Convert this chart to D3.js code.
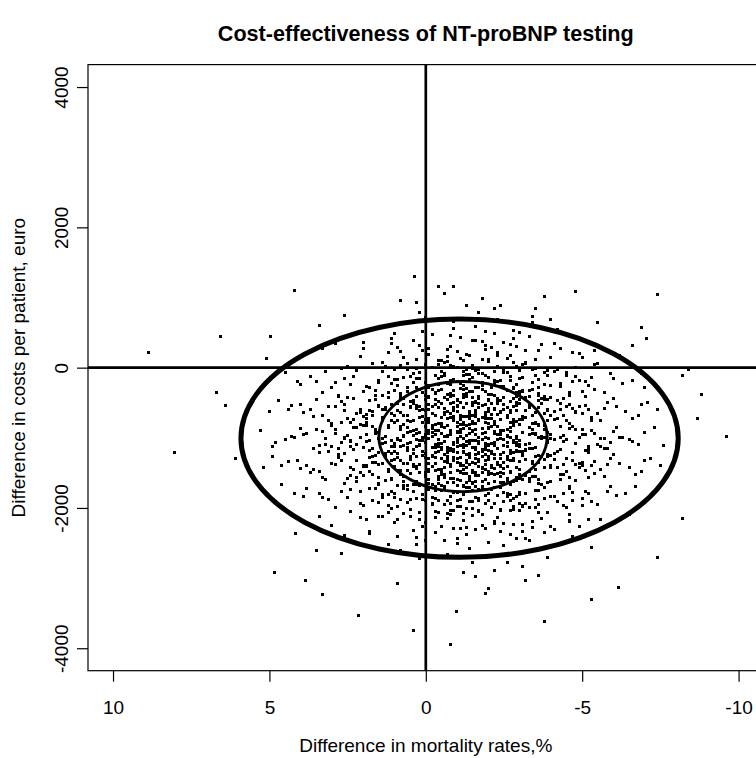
<!DOCTYPE html>
<html><head><meta charset="utf-8">
<script src="https://cdn.jsdelivr.net/npm/d3@7"></script>
<style>
body{margin:0;background:#fff}
svg{display:block;font-family:"Liberation Sans",Arial,Helvetica,sans-serif}
</style>
</head><body>
<svg id="chart" width="756" height="758"></svg>
<script>
// ---- text ----
const chartTitle = "Cost-effectiveness of NT-proBNP testing";
const xTitle = "Difference in mortality rates,%";
const yTitle = "Difference in costs per patient, euro";
// ---- axes ----
const xLimits = [10, -10];
const yLimits = [-4000, 4000];
const xTickValues = [10, 5, 0, -5, -10];
const yTickValues = [-4000, -2000, 0, 2000, 4000];
const xTickLabels = ["10", "5", "0", "-5", "-10"];
const yTickLabels = ["-4000", "-2000", "0", "2000", "4000"];
// ---- reference lines ----
const vLines = [0];
const hLines = [0];
// ---- confidence ellipses: [inner, outer] ----
const ellipseCx = [-1.19, -1.08];
const ellipseCy = [-984, -1006];
const ellipseRx = [2.69, 6.99];
const ellipseRy = [785, 1698];
// ---- simulated pairs [mortality diff %, cost diff euro], grouped by cost band ----
const drawsAround1000 = [[-0.4,-1020],[-2.3,-950],[0.6,-1080],[-1.5,-910],[1.8,-1040],[-3.6,-990],[-0.9,-1060],[0.2,-930],[-1.9,-1000],[-4.4,-970],
[-1.2,-1090],[2.6,-1010],[-0.1,-940],[-2.8,-1070],[-1.6,-960],[0.9,-1030],[-3.1,-920],[-0.6,-1050],[1.3,-980],[-2.0,-1100],
[-1.0,-905],[-2.5,-1025],[0.4,-965],[-3.9,-1045],[-0.7,-985],[1.6,-915],[-1.4,-1075],[-2.2,-935],[3.2,-1005],[-0.3,-1095],
[-1.8,-945],[-5.6,-1015],[0.0,-1065],[-2.6,-975],[-1.1,-925],[0.8,-1035],[-3.3,-955],[-0.5,-1085],[2.1,-995],[-1.7,-1055],
[-2.9,-1005],[-0.8,-915],[1.1,-1045],[-1.3,-965],[-4.1,-1025],[-0.2,-985],[-2.1,-1075],[0.5,-905],[-1.5,-1035],[-3.4,-945],
[-0.9,-1095],[1.9,-955],[-2.4,-1015],[-1.0,-1065],[0.3,-935],[-2.7,-995],[-4.8,-1085],[-0.6,-975],[2.4,-1055],[-1.9,-925],
[-1.2,-1005],[-3.0,-1045],[0.7,-965],[-0.4,-1100],[-2.2,-915],[-1.6,-1035],[1.4,-1085],[-3.7,-975],[-0.1,-1015],[-1.4,-945],
[-2.6,-1065],[0.1,-995],[-0.8,-905],[-1.8,-1025],[-5.1,-955],[1.0,-1075],[-2.0,-1005],[-0.5,-935],[-3.2,-1095],[-1.1,-985],
[2.9,-945],[-1.3,-1055],[-2.4,-905],[0.2,-1035],[-0.7,-965],[-4.0,-1015],[-1.7,-1075],[0.6,-925],[-2.9,-985],[-1.0,-1045],
[-0.3,-955],[-2.1,-1085],[1.5,-1015],[-3.5,-935]];
const drawsAround800 = [[-1.3,-820],[0.4,-760],[-2.6,-880],[-0.8,-710],[1.7,-840],[-3.4,-790],[-1.9,-730],[-0.2,-870],[-4.6,-800],[0.9,-750],
[-1.5,-890],[-2.2,-770],[2.5,-720],[-0.6,-850],[-3.0,-810],[-1.1,-740],[0.1,-780],[-2.7,-860],[-0.9,-700],[1.2,-830],
[-1.7,-760],[-3.8,-880],[-0.4,-790],[-2.0,-720],[0.6,-850],[-1.2,-810],[-5.3,-750],[-2.4,-895],[0.0,-735],[-0.7,-825],
[1.9,-775],[-1.8,-865],[-3.2,-705],[-1.0,-845],[-2.9,-765],[0.3,-885],[-0.5,-715],[-1.6,-795],[2.2,-855],[-4.1,-745],
[-2.1,-835],[-0.1,-785],[-1.4,-725],[0.8,-875],[-3.6,-815],[-0.9,-755],[-2.5,-895],[1.4,-705],[-1.2,-865],[-0.3,-805],
[-2.8,-745],[-1.6,-885],[0.5,-765],[-4.3,-835],[-0.8,-715],[-2.0,-795],[3.0,-825],[-1.1,-875],[-3.1,-735],[-0.6,-855],
[-1.9,-775],[0.2,-715],[-2.3,-845],[-0.4,-895],[1.1,-755],[-3.5,-785],[-1.3,-825],[-2.6,-705],[-0.2,-865],[-1.7,-745],
[0.7,-805],[-5.0,-875],[-0.9,-735],[-2.2,-815],[1.6,-885],[-1.5,-765],[-3.3,-855],[-0.7,-725],[0.0,-835],[-2.8,-795],
[-1.0,-905],[-1.8,-705],[2.7,-775],[-0.5,-845],[-3.9,-755],[-1.4,-815],[0.4,-895],[-2.4,-735],[-1.2,-785],[-0.1,-725],[-2.0,-865]];
const drawsAround1200 = [[-0.7,-1180],[-2.4,-1240],[0.8,-1120],[-1.6,-1290],[-3.3,-1150],[1.5,-1210],[-0.2,-1260],[-1.9,-1130],[-4.2,-1200],[0.3,-1270],
[-1.1,-1110],[-2.7,-1230],[2.3,-1160],[-0.5,-1300],[-3.0,-1190],[-1.4,-1250],[0.6,-1140],[-2.1,-1220],[-5.2,-1170],[-0.9,-1280],
[1.0,-1125],[-1.8,-1195],[-3.7,-1265],[-0.3,-1145],[-2.5,-1215],[1.8,-1285],[-1.3,-1105],[-0.6,-1235],[-2.9,-1175],[0.1,-1255],
[-1.5,-1135],[-4.5,-1295],[-0.8,-1185],[2.8,-1245],[-2.2,-1115],[-1.0,-1205],[0.5,-1275],[-3.4,-1155],[-1.7,-1225],[-0.4,-1125],
[-2.6,-1265],[1.2,-1195],[-1.2,-1145],[-3.9,-1235],[0.0,-1285],[-2.0,-1105],[-0.7,-1175],[1.6,-1255],[-2.8,-1215],[-1.5,-1135],
[-0.1,-1295],[-3.2,-1185],[-1.9,-1245],[0.7,-1115],[-4.7,-1205],[-1.1,-1275],[-2.3,-1155],[0.4,-1225],[-0.5,-1165],[-1.6,-1295],
[2.0,-1135],[-3.6,-1255],[-0.9,-1195],[-2.5,-1105],[-1.3,-1235],[0.9,-1285],[-0.2,-1145],[-2.0,-1175],[-3.1,-1225],[-1.0,-1125],
[1.3,-1265],[-1.7,-1205],[-5.7,-1155],[-0.6,-1245],[-2.7,-1185],[0.2,-1115],[-1.4,-1275],[-0.3,-1215],[-3.5,-1135],[-2.2,-1295],
[3.4,-1205],[-0.8,-1155],[-1.8,-1265],[0.6,-1175],[-2.4,-1235],[-1.2,-1125],[-4.0,-1255],[-0.4,-1195],[-1.5,-1145],[1.1,-1225],[-2.9,-1105]];
const drawsAround600 = [[-1.0,-620],[-2.8,-560],[0.7,-680],[-1.7,-510],[-3.5,-640],[1.4,-590],[-0.3,-530],[-2.1,-670],[-4.3,-600],[0.2,-550],
[-1.4,-700],[-0.6,-580],[2.1,-640],[-2.5,-520],[-1.1,-690],[-3.2,-610],[0.5,-570],[-1.9,-650],[-0.8,-505],[1.7,-625],
[-2.3,-665],[-5.1,-545],[-0.1,-595],[-1.5,-685],[-2.9,-535],[0.9,-615],[-1.2,-575],[-3.8,-655],[-0.5,-515],[2.6,-605],
[-2.0,-585],[-1.3,-695],[0.3,-545],[-2.7,-635],[-0.9,-565],[-4.0,-675],[1.1,-525],[-1.6,-615],[-0.2,-655],[-3.0,-505],
[-2.2,-595],[0.6,-685],[-1.0,-535],[-3.6,-575],[1.9,-665],[-0.7,-625],[-1.8,-545],[-2.6,-685],[0.0,-605],[-1.3,-515],
[-4.8,-645],[-0.4,-565],[-2.4,-625],[1.3,-595],[-1.1,-675],[-3.3,-525],[-0.8,-655],[0.4,-505],[-2.0,-585],[-1.6,-695],
[3.1,-555],[-2.9,-615],[-0.3,-685],[-1.5,-545],[-3.9,-605],[0.8,-635],[-1.2,-575],[-2.3,-515],[-0.6,-665],[1.5,-545],
[-1.9,-635],[-3.1,-695],[-0.1,-525],[-2.6,-575],[-1.4,-655],[0.1,-595],[-4.5,-555],[-0.9,-615],[-2.1,-505],[1.0,-675],[-1.7,-565]];
const drawsAround1400 = [[-0.8,-1380],[-2.2,-1440],[1.1,-1320],[-1.5,-1490],[-3.6,-1350],[0.4,-1410],[-1.0,-1460],[-2.7,-1330],[1.9,-1400],[-0.3,-1470],
[-4.1,-1310],[-1.8,-1430],[0.7,-1360],[-2.4,-1500],[-1.2,-1390],[-0.5,-1450],[-3.0,-1340],[2.4,-1420],[-1.6,-1370],[-0.1,-1480],
[-2.0,-1315],[-5.0,-1395],[0.9,-1465],[-1.3,-1345],[-2.9,-1425],[-0.7,-1305],[1.5,-1375],[-1.9,-1455],[-3.4,-1335],[-0.2,-1405],
[-1.1,-1485],[-2.5,-1355],[0.3,-1435],[-4.4,-1385],[-0.9,-1325],[-1.6,-1495],[2.0,-1415],[-2.3,-1345],[-0.4,-1445],[-3.2,-1305],
[-1.4,-1375],[0.6,-1465],[-2.1,-1395],[-0.6,-1335],[-3.8,-1425],[1.2,-1485],[-1.0,-1355],[-2.6,-1305],[-0.1,-1455],[-1.7,-1415],
[-4.9,-1365],[0.0,-1495],[-2.8,-1325],[-1.2,-1445],[1.7,-1345],[-0.8,-1405],[-3.3,-1475],[-1.9,-1385],[0.5,-1315],[-2.2,-1435],
[-0.5,-1495],[-1.5,-1345],[2.9,-1385],[-3.5,-1455],[-0.9,-1305],[-2.4,-1405],[0.8,-1465],[-1.3,-1325],[-2.0,-1475],[-0.3,-1365],
[-4.0,-1425],[-1.7,-1305],[1.0,-1415],[-2.7,-1485],[-0.7,-1345],[-1.1,-1395],[-3.0,-1455],[0.2,-1375],[-1.8,-1435],[-5.4,-1335],[-0.6,-1420]];
const drawsAround400 = [[-1.2,-420],[-2.9,-360],[0.5,-480],[-1.8,-310],[-3.7,-440],[1.6,-390],[-0.4,-330],[-2.3,-470],[-4.6,-400],[0.1,-350],
[-1.5,-490],[-0.7,-380],[2.3,-440],[-2.6,-320],[-1.0,-460],[-3.3,-410],[0.8,-370],[-2.0,-450],[-0.2,-305],[1.2,-425],
[-2.4,-465],[-5.0,-345],[-0.9,-395],[-1.6,-485],[-3.0,-335],[0.3,-415],[-1.3,-375],[-3.9,-455],[-0.5,-315],[2.8,-405],
[-2.1,-385],[-1.1,-495],[0.6,-345],[-2.8,-435],[-0.8,-365],[-4.2,-475],[1.0,-325],[-1.7,-415],[0.0,-455],[-3.4,-305],
[-2.2,-395],[0.4,-485],[-1.4,-335],[-3.6,-375],[1.8,-465],[-0.6,-425],[-1.9,-345],[-2.7,-485],[-0.1,-405],[-1.2,-315],
[-4.4,-445],[-0.3,-365],[-2.5,-425],[1.4,-395],[-1.0,-475],[-3.1,-325],[-0.7,-455],[0.2,-305],[-2.0,-385],[-1.6,-495],
[3.3,-355],[-2.9,-415],[-0.4,-485],[-1.5,-345],[-3.8,-405],[0.7,-435]];
const drawsAround1600 = [[-0.9,-1580],[-2.5,-1640],[0.8,-1520],[-1.6,-1690],[-3.4,-1550],[1.3,-1610],[-0.2,-1660],[-2.0,-1530],[-4.3,-1600],[0.4,-1670],
[-1.2,-1510],[-2.8,-1630],[2.2,-1560],[-0.6,-1700],[-3.1,-1590],[-1.5,-1650],[0.0,-1540],[-2.2,-1620],[-5.2,-1570],[-1.0,-1680],
[1.7,-1525],[-1.9,-1595],[-3.7,-1665],[-0.4,-1545],[-2.6,-1615],[0.9,-1685],[-1.3,-1505],[-0.7,-1635],[-3.0,-1575],[-0.1,-1655],
[-1.7,-1535],[-4.6,-1695],[-0.9,-1585],[2.6,-1645],[-2.3,-1515],[-1.1,-1605],[0.6,-1675],[-3.5,-1555],[-1.8,-1625],[-0.5,-1525],
[-2.7,-1665],[1.1,-1595],[-1.4,-1545],[-3.9,-1635],[0.2,-1685],[-2.1,-1505],[-0.8,-1575],[1.5,-1655],[-2.9,-1615],[-1.6,-1535],
[-0.3,-1695],[-3.3,-1585],[-2.0,-1645],[0.5,-1515],[-4.8,-1605],[-1.2,-1675],[-2.4,-1555],[0.3,-1625],[-0.6,-1565],[-1.8,-1695],
[2.0,-1535],[-3.6,-1655],[-1.0,-1595],[-2.5,-1505],[-1.3,-1635],[0.7,-1685]];
const drawsAround200 = [[-1.1,-220],[-3.0,-160],[0.6,-280],[-1.9,-110],[-3.8,-240],[1.5,-190],[-0.5,-130],[-2.4,-270],[-4.7,-200],[0.2,-150],
[-1.6,-290],[-0.8,-180],[2.4,-240],[-2.7,-120],[-1.2,-260],[-3.4,-210],[0.9,-170],[-2.1,-250],[-0.3,-105],[1.1,-225],
[-2.5,-265],[-5.3,-145],[-1.0,-195],[-1.7,-285],[-3.1,-135],[0.4,-215],[-1.4,-175],[-4.0,-255],[-0.6,-115],[2.9,-205],
[-2.2,-185],[-1.3,-295],[0.7,-145],[-2.9,-235],[-0.9,-165],[-4.3,-275],[1.2,-125],[-1.8,-215],[-0.1,-255],[-3.5,-105],
[-2.3,-195],[0.3,-285],[-1.5,-135],[-3.6,-175],[1.9,-265],[-0.7,-225],[-2.0,-145],[-2.8,-285],[0.0,-205],[-1.2,-115],[-0.4,-245]];
const drawsAround1800 = [[-1.0,-1780],[-2.6,-1840],[0.7,-1720],[-1.7,-1890],[-3.5,-1750],[1.2,-1810],[-0.3,-1860],[-2.1,-1730],[-4.4,-1800],[0.3,-1870],
[-1.3,-1710],[-2.9,-1830],[2.1,-1760],[-0.7,-1900],[-3.2,-1790],[-1.6,-1850],[-0.1,-1740],[-2.3,-1820],[-5.1,-1770],[-1.1,-1880],
[1.6,-1725],[-2.0,-1795],[-3.8,-1865],[-0.5,-1745],[-2.7,-1815],[0.8,-1885],[-1.4,-1705],[-0.8,-1835],[-3.0,-1775],[-0.2,-1855],
[-1.8,-1735],[-4.7,-1895],[-1.0,-1785],[2.5,-1845],[-2.4,-1715],[-1.2,-1805],[0.5,-1875],[-3.6,-1755],[-1.9,-1825],[-0.6,-1725],
[-2.8,-1865],[1.0,-1795],[-1.5,-1745],[-4.0,-1835],[0.1,-1885],[-2.2,-1705],[-0.9,-1775],[1.4,-1855],[-3.0,-1815],[-1.7,-1735],[-0.4,-1895]];
const drawsAround0 = [[-1.3,-20],[-3.1,40],[0.4,-80],[-2.0,90],[-3.9,-40],[1.3,10],[-0.6,70],[-2.5,-70],[-4.8,0],[0.0,50],
[-1.7,-90],[-0.9,20],[2.2,-40],[-2.8,80],[-1.2,-60],[-3.5,-10],[0.8,30],[-2.2,-50],[-0.4,95],[1.0,-25],
[-2.6,-65],[-5.5,55],[-1.0,5],[-1.8,-85],[-3.2,65],[0.3,-15],[-1.5,25],[-4.1,-55],[-0.7,85],[2.7,-5],
[-2.3,15],[-1.4,-95],[0.6,55],[-3.0,-35],[-0.8,35],[-4.5,-75]];
const drawsAround2000 = [[-1.1,-1980],[-2.7,-2040],[0.6,-1920],[-1.8,-2090],[-3.6,-1950],[1.1,-2010],[-0.4,-2060],[-2.2,-1930],[-4.5,-2000],[0.2,-2070],
[-1.4,-1910],[-3.0,-2030],[2.0,-1960],[-0.8,-2100],[-3.3,-1990],[-1.7,-2050],[-0.2,-1940],[-2.4,-2020],[-5.0,-1970],[-1.2,-2080],
[1.5,-1925],[-2.1,-1995],[-3.9,-2065],[-0.6,-1945],[-2.8,-2015],[0.7,-2085],[-1.5,-1905],[-0.9,-2035],[-3.1,-1975],[-0.3,-2055],
[-1.9,-1935],[-4.6,-2095],[-1.0,-1985],[2.4,-2045],[-2.5,-1915],[-1.3,-2005]];
const drawsAbove100 = [[-1.4,180],[-3.2,240],[0.3,120],[-2.1,290],[-4.0,150],[1.2,210],[-0.7,260],[-2.6,130],[-4.9,200],[-0.1,270],
[-1.8,110],[-1.0,230],[2.1,160],[-2.9,300],[-1.3,190],[-3.6,250],[0.7,140],[-2.3,220],[-0.5,105],[0.9,285],
[-2.7,175],[-5.4,245],[-1.1,125],[-1.9,265],
[-1.5,380],[-3.3,440],[0.2,320],[-2.2,490],[-4.1,350],[1.1,410],[-0.8,460],[-2.7,330],[-5.0,400],[-0.2,470],[-1.9,310],[-1.1,430],[2.0,360],[-3.0,500],
[-1.6,580],[-3.4,640],[0.1,520],[-2.3,690],[-4.2,550],[1.0,610],[-0.9,660],[-2.8,530],
[-1.7,780],[-3.5,840],[0.0,720],[-2.4,890],[-1.8,980],[-0.6,1060]];
const drawsBelow2100 = [[-1.2,-2180],[-2.8,-2240],[0.5,-2120],[-1.9,-2290],[-3.7,-2150],[1.0,-2210],[-0.5,-2260],[-2.3,-2130],[-4.6,-2200],[0.1,-2270],
[-1.5,-2110],[-3.1,-2230],[1.9,-2160],[-0.9,-2300],[-3.4,-2190],[-1.8,-2250],[-0.3,-2140],[-2.5,-2220],[-5.2,-2170],[-1.3,-2280],
[1.4,-2125],[-2.2,-2195],[-4.0,-2265],[-0.7,-2145],
[-1.3,-2380],[-2.9,-2440],[0.4,-2320],[-2.0,-2490],[-3.8,-2350],[0.9,-2410],[-0.6,-2460],[-2.4,-2330],[-4.7,-2400],[0.0,-2470],[-1.6,-2310],[-3.2,-2430],[1.8,-2360],[-1.0,-2500],
[-1.4,-2580],[-3.0,-2640],[0.3,-2520],[-2.1,-2690],[-3.9,-2550],[0.8,-2610],[-0.7,-2660],[-2.5,-2530],
[-1.5,-2780],[-3.1,-2840],[0.2,-2720],[-2.2,-2890],[-1.6,-2980],[-3.2,-3040],[-1.9,-3220]];
// wider-spread draws (second batch)
const wideAround1000 = [[2.4,-1130],[-4.6,-870],[0.9,-1010],[-3.1,-1190],[3.8,-940],[-5.9,-1060],[-0.2,-820],[1.7,-1150],[-2.4,-900],[-6.8,-1090],
[4.3,-980],[-1.6,-1170],[-3.8,-830],[0.1,-1040],[2.9,-880],[-5.2,-1120],[-0.8,-960],[-2.9,-1200],[1.2,-850],[-4.1,-1020],
[3.4,-1110],[-1.1,-910],[-6.2,-990],[0.6,-1180],[-2.1,-840],[4.8,-1070],[-3.5,-950],[-0.5,-1140],[2.1,-810],[-4.9,-1000],
[-1.9,-1160],[1.5,-920],[-3.3,-1080],[-7.3,-860],[0.3,-1030],[3.1,-1190],[-2.6,-970],[-5.5,-1100],[-0.1,-890],[1.9,-1050],
[-4.3,-1170],[-1.3,-830],[2.6,-1000],[-3.0,-1130],[-6.0,-910],[0.8,-870],[-2.2,-1060],[3.9,-950],[-0.9,-1190],[-4.7,-840],
[1.1,-1120],[-1.7,-990],[-3.7,-1010],[5.3,-900],[-0.4,-1080],[-5.8,-1150],[2.3,-860],[-2.8,-1040],[-1.0,-920],[0.4,-1160],
[-4.0,-960],[3.2,-1090],[-6.5,-1020],[-1.5,-800],[1.8,-1180],[-3.4,-880],[0.0,-1000],[-2.5,-1110],[4.5,-1030],[-5.0,-950],
[-0.7,-1140],[2.0,-830],[-3.9,-1070],[-1.2,-1190],[-7.0,-930],[0.7,-980],[-2.0,-850],[3.6,-1150],[-4.4,-1050],[-0.3,-890],
[1.4,-1010],[-5.6,-1130],[-2.7,-910],[2.7,-1060],[-1.8,-1170],[-3.6,-820],[0.2,-1100],[-6.3,-990],[4.0,-870],[-1.4,-1040],
[-4.2,-1200],[1.6,-940],[-2.3,-1020],[-0.6,-860],[3.0,-1130],[-5.3,-900],[-3.2,-1160],[0.5,-1070],[-1.1,-810],[2.2,-1090],
[-6.6,-1050],[-2.4,-960],[1.0,-1190],[-3.8,-1000],[4.9,-1120],[-0.2,-930],[-4.8,-880],[-1.6,-1140],[2.5,-970],[-2.9,-1070],
[0.8,-840],[-5.1,-1180],[-1.0,-1010],[3.5,-880],[-3.3,-950],[-7.6,-1110],[1.3,-1060],[-2.1,-1200],[-0.8,-900],[-4.5,-1030],
[2.8,-1150],[-1.4,-870],[-3.0,-1090],[0.0,-950],[-5.7,-1010],[1.9,-820],[-2.6,-1120],[4.2,-1000],[-0.5,-1170],[-3.9,-920],
[-1.9,-1080],[0.3,-1130],[-6.1,-860],[2.4,-1040],[-4.3,-990],[-0.9,-1160],[3.3,-910],[-2.8,-830],[-1.2,-1100],[-5.4,-940]];
const wideAround600 = [[1.9,-720],[-4.3,-510],[-0.6,-640],[3.5,-450],[-2.7,-780],[-6.1,-560],[0.8,-420],[-1.9,-690],[4.4,-600],[-3.6,-470],
[-0.1,-750],[2.6,-530],[-5.0,-660],[-1.3,-410],[1.3,-570],[-3.1,-730],[-7.1,-490],[0.2,-610],[-2.3,-440],[3.0,-790],
[-4.7,-580],[-0.9,-700],[1.6,-460],[-2.0,-620],[-5.6,-750],[4.0,-520],[-1.5,-430],[-3.4,-680],[0.5,-560],[2.3,-740],
[-6.4,-620],[-0.4,-480],[-2.8,-770],[1.1,-650],[-4.0,-430],[3.7,-600],[-1.8,-540],[-5.3,-710],[0.0,-400],[2.0,-690],
[-3.7,-510],[-1.0,-780],[4.7,-470],[-2.5,-590],[-6.8,-680],[0.7,-530],[-4.5,-760],[-0.3,-450],[1.8,-610],[-3.2,-420],
[-1.6,-660],[2.9,-560],[-5.8,-490],[-0.7,-730],[-2.2,-580],[3.3,-680],[-4.1,-630],[1.0,-780],[-1.1,-500],[-3.0,-740],
[0.4,-470],[-5.2,-600],[2.5,-420],[-2.6,-700],[-0.2,-560],[-4.6,-520],[1.4,-760],[-7.4,-600],[-1.7,-440],[3.9,-640],
[-3.5,-790],[0.1,-690],[-2.0,-470],[-5.5,-650],[2.1,-590],[-0.8,-410],[-4.2,-720],[4.3,-540],[-1.4,-620],[-2.9,-500],
[0.6,-750],[-6.0,-440],[1.7,-680],[-3.3,-570],[-0.5,-790],[2.7,-480],[-4.9,-550],[-1.2,-700],[-2.4,-640],[5.0,-620],
[-3.8,-460],[0.3,-580],[-6.6,-730],[-1.9,-530],[1.2,-420],[-2.7,-610],[3.1,-760],[-4.4,-680],[-0.9,-490],[-5.1,-410],
[2.2,-650],[-1.5,-770],[-3.9,-600],[0.9,-510],[-2.1,-730],[-0.1,-430],[-5.7,-580],[3.6,-700],[-3.0,-450],[1.5,-550],
[-4.8,-630],[-1.0,-560],[-6.9,-520],[2.4,-780],[-2.3,-490]];
const wideAround1400 = [[2.2,-1330],[-4.4,-1520],[-0.7,-1260],[3.6,-1450],[-2.6,-1580],[-6.2,-1360],[0.9,-1220],[-1.8,-1490],[4.6,-1400],[-3.5,-1270],
[0.0,-1550],[2.7,-1330],[-5.1,-1460],[-1.2,-1210],[1.4,-1370],[-3.0,-1530],[-7.2,-1290],[0.3,-1410],[-2.2,-1240],[3.2,-1590],
[-4.8,-1380],[-0.8,-1500],[1.7,-1260],[-2.1,-1420],[-5.7,-1550],[4.1,-1320],[-1.4,-1230],[-3.3,-1480],[0.6,-1360],[2.4,-1540],
[-6.5,-1420],[-0.3,-1280],[-2.9,-1570],[1.2,-1450],[-4.1,-1230],[3.8,-1400],[-1.7,-1340],[-5.4,-1510],[0.1,-1200],[2.1,-1490],
[-3.8,-1310],[-0.9,-1580],[4.9,-1270],[-2.4,-1390],[-6.9,-1480],[0.8,-1330],[-4.6,-1560],[-0.2,-1250],[1.9,-1410],[-3.1,-1220],
[-1.5,-1460],[3.0,-1360],[-5.9,-1290],[-0.6,-1530],[-2.3,-1380],[3.4,-1480],[-4.2,-1430],[1.1,-1580],[-1.0,-1300],[-3.2,-1540],
[0.5,-1270],[-5.3,-1400],[2.6,-1220],[-2.7,-1500],[-0.1,-1360],[-4.7,-1320],[1.5,-1560],[-7.5,-1400],[-1.6,-1240],[4.0,-1440],
[-3.6,-1590],[0.2,-1490],[-2.0,-1270],[-5.6,-1450],[2.0,-1390],[-0.7,-1210],[-4.3,-1520],[4.4,-1340],[-1.3,-1420],[-2.8,-1300],
[0.7,-1550],[-6.0,-1240],[1.8,-1480],[-3.4,-1370],[-0.4,-1590],[2.8,-1280],[-5.0,-1350],[-1.1,-1500],[-2.5,-1440],[5.2,-1420],
[-3.9,-1260],[0.4,-1380],[-6.7,-1530],[-1.9,-1330],[1.3,-1220],[-2.6,-1410],[3.3,-1560],[-4.5,-1480],[-0.9,-1290],[-5.2,-1210],
[2.3,-1450],[-1.4,-1570],[-4.0,-1400],[1.0,-1310],[-2.2,-1530],[0.0,-1230],[-5.8,-1380],[3.7,-1500],[-3.1,-1250],[1.6,-1350],
[-4.9,-1430],[-1.1,-1360],[-7.0,-1320],[2.5,-1580],[-2.4,-1290]];
const wideAround200 = [[1.6,-320],[-4.5,-110],[-0.8,-240],[3.2,-50],[-2.9,-380],[-6.0,-160],[0.6,-20],[-2.1,-290],[4.1,-200],[-3.8,-70],
[-0.3,-350],[2.3,-130],[-5.2,-260],[-1.5,-10],[1.0,-170],[-3.3,-330],[-6.9,-90],[0.0,-210],[-2.5,-40],[2.8,-390],
[-4.9,-180],[-1.1,-300],[1.4,-60],[-2.2,-220],[-5.7,-350],[3.7,-120],[-1.7,-30],[-3.6,-280],[0.3,-160],[2.0,-340],
[-6.3,-220],[-0.6,-80],[-3.0,-370],[0.9,-250],[-4.2,-30],[3.5,-200],[-2.0,-140],[-5.4,-310],[-0.2,0],[1.8,-290],
[-3.9,-110],[-1.2,-380],[4.5,-70],[-2.7,-190],[-7.0,-280],[0.5,-130],[-4.6,-360],[-0.5,-50],[1.5,-210],[-3.4,-20],
[-1.8,-260],[2.6,-160],[-5.9,-90],[-0.9,-330],[-2.4,-180],[3.0,-280],[-4.3,-230],[0.8,-380],[-1.3,-100],[-3.1,-340],
[0.2,-70],[-5.1,-200],[2.2,-20],[-2.8,-300],[-0.4,-150],[-4.8,-120],[1.2,-360],[-6.6,-190],[-1.6,-40],[4.0,-240],
[-3.6,-390],[-0.1,-290]];
const wideAround1800 = [[1.8,-1720],[-4.2,-1910],[-0.9,-1640],[3.3,-1850],[-2.8,-1980],[-5.8,-1760],[0.7,-1620],[-2.0,-1890],[4.2,-1800],[-3.7,-1670],
[-0.2,-1950],[2.4,-1730],[-5.0,-1860],[-1.4,-1610],[1.1,-1770],[-3.2,-1930],[-6.7,-1690],[0.1,-1810],[-2.4,-1640],[2.9,-1990],
[-4.7,-1780],[-1.0,-1900],[1.5,-1660],[-2.3,-1820],[-5.5,-1950],[3.8,-1720],[-1.6,-1630],[-3.5,-1880],[0.4,-1760],[2.1,-1940],
[-6.1,-1820],[-0.5,-1680],[-3.1,-1970],[1.0,-1850],[-4.0,-1630],[3.4,-1800],[-1.9,-1740],[-5.3,-1910],[-0.1,-1600],[1.7,-1890],
[-3.8,-1710],[-1.1,-1980],[4.6,-1670],[-2.6,-1790],[-7.1,-1880],[0.6,-1730],[-4.4,-1960],[-0.4,-1650],[1.4,-1810],[-3.3,-1620],
[-1.7,-1860],[2.7,-1760],[-5.9,-1690],[-0.8,-1930],[-2.5,-1780],[3.1,-1880],[-4.1,-1830],[0.9,-1980],[-1.2,-1700],[-3.0,-1940],
[0.3,-1670],[-5.2,-1800],[2.2,-1620],[-2.7,-1900],[-0.3,-1750],[-4.6,-1720],[1.2,-1960],[-6.4,-1790],[-1.5,-1640],[3.9,-1840],
[-3.5,-1990],[0.0,-1890]];
const wideUpperTail = [[1.4,80],[-4.3,280],[-0.7,160],[2.9,350],[-2.9,20],[-5.8,240],[0.4,380],[-2.0,110],[3.8,200],[-3.7,330],
[-0.4,50],[2.0,270],[-5.0,140],[-1.6,390],[0.8,230],[-3.2,70],[-6.6,310],[-0.1,190],[-2.5,360],[2.5,10],
[-4.7,220],[-1.2,100],[1.1,340],[-2.3,180],[-5.4,50],[3.3,280],[-1.8,370],[-3.5,120],[0.1,240],[1.7,60],
[-6.2,180],[-0.8,300],
[1.0,480],[-4.0,690],[-0.9,560],[2.6,750],[-2.8,420],[-5.5,640],[0.2,780],[-1.9,510],[-3.4,730],[3.4,600],
[-1.3,880],[0.8,960],[-3.8,1010],[-2.2,850]];
const wideLowerTail = [[1.5,-2120],[-4.1,-2310],[-0.8,-2040],[3.0,-2250],[-2.7,-2380],[-5.6,-2160],[0.5,-2020],[-1.9,-2290],[3.9,-2200],[-3.6,-2070],
[-0.3,-2350],[2.1,-2130],[-4.9,-2260],[-1.5,-2010],[0.9,-2170],[-3.1,-2330],[-6.5,-2090],[0.0,-2210],[-2.4,-2040],[2.6,-2390],
[-4.6,-2180],[-1.1,-2300],[1.2,-2060],[-2.2,-2220],[-5.3,-2350],[3.4,-2120],[-1.7,-2030],[-3.4,-2280],[0.2,-2160],[1.8,-2340],
[-6.0,-2220],[-0.7,-2080],
[1.2,-2520],[-3.9,-2710],[-1.0,-2440],[2.7,-2650],[-2.6,-2780],[-5.3,-2560],[0.3,-2420],[-1.8,-2690],[3.5,-2600],[-3.3,-2470],
[-1.2,-2920],[0.9,-3080],[-3.6,-2960],[-2.0,-3150]];
const drawsOutlying = [[8.85,214],[6.55,440],[8.05,-1210],[4.98,440],[0.4,-3740],[-0.8,-3940],[-3.8,-3620],[-7.4,1040],[-9.6,-985],
[-4.8,1084],[4.2,1100],[0.35,1300],[-0.4,1155],[-0.9,1155],[0.3,930],[-6.9,570],[-7.05,415],[-8.4,-30],[-8.8,-385],[-8.7,-730],[-8.2,-110],
[5.08,130],[6.7,-360],[6.4,-540],[6.1,-1300],[4.17,-2370],[4.85,-2925],[3.85,-3040],[2.16,-3540],[3.3,-3240],
[-8.2,-2150],[-7.4,-2710],[-6.15,-3140],[-5.3,-3310],[-0.97,-3470]];

const simulations = [].concat(drawsAround1000, drawsAround800, drawsAround1200, drawsAround600, drawsAround1400,
  drawsAround400, drawsAround1600, drawsAround200, drawsAround1800, drawsAround0, drawsAround2000,
  drawsAbove100, drawsBelow2100, wideAround1000, wideAround600, wideAround1400, wideAround200, wideAround1800,
  wideUpperTail, wideLowerTail, drawsOutlying);

// ---- layout ----
const W = 756, H = 758;
const plot = {left: 88, right: 763.6, top: 64.6, bottom: 670.7};
const expand = 0.04;
const dotSize = 3;

const svg = d3.select("#chart");
const xPad = (xLimits[0] - xLimits[1]) * expand;
const yPad = (yLimits[1] - yLimits[0]) * expand;
const x = d3.scaleLinear().domain([xLimits[0] + xPad, xLimits[1] - xPad]).range([plot.left, plot.right]);
const y = d3.scaleLinear().domain([yLimits[0] - yPad, yLimits[1] + yPad]).range([plot.bottom, plot.top]);

svg.append("rect").attr("width", W).attr("height", H).attr("fill", "#fff");

svg.append("defs").append("clipPath").attr("id", "clip")
  .append("rect").attr("x", plot.left).attr("y", plot.top)
  .attr("width", plot.right - plot.left).attr("height", plot.bottom - plot.top);

const g = svg.append("g").attr("clip-path", "url(#clip)");

// points
g.append("g").selectAll("rect").data(simulations).join("rect")
  .attr("x", d => Math.round(x(d[0]) - dotSize / 2)).attr("y", d => Math.round(y(d[1]) - dotSize / 2))
  .attr("width", dotSize).attr("height", dotSize).attr("fill", "#000")
  .attr("shape-rendering", "crispEdges");

// reference lines
g.append("g").selectAll("line").data(vLines).join("line")
  .attr("x1", d => x(d)).attr("x2", d => x(d))
  .attr("y1", plot.top).attr("y2", plot.bottom)
  .attr("stroke", "#000").attr("stroke-width", 2.7);
g.append("g").selectAll("line").data(hLines).join("line")
  .attr("x1", plot.left).attr("x2", plot.right)
  .attr("y1", d => y(d)).attr("y2", d => y(d))
  .attr("stroke", "#000").attr("stroke-width", 2.7);

// ellipses
const ellipseWidths = [3, 5];
g.append("g").selectAll("ellipse").data(ellipseCx.map((c, i) => i)).join("ellipse")
  .attr("cx", i => x(ellipseCx[i])).attr("cy", i => y(ellipseCy[i]))
  .attr("rx", i => Math.abs(x(ellipseCx[i] + ellipseRx[i]) - x(ellipseCx[i])))
  .attr("ry", i => Math.abs(y(ellipseCy[i] + ellipseRy[i]) - y(ellipseCy[i])))
  .attr("fill", "none").attr("stroke", "#000")
  .attr("stroke-width", i => ellipseWidths[i]);

// box
svg.append("rect").attr("x", plot.left).attr("y", plot.top)
  .attr("width", plot.right - plot.left).attr("height", plot.bottom - plot.top)
  .attr("fill", "none").attr("stroke", "#000").attr("stroke-width", 1.2);

const fontFam = '"Liberation Sans",Arial,sans-serif';
const axisFont = 19;

// x axis
const xAxis = svg.append("g").attr("transform", `translate(0,${plot.bottom})`)
  .call(d3.axisBottom(x).tickValues(xTickValues).tickSize(11).tickPadding(19)
    .tickFormat((d, i) => xTickLabels[i]));
xAxis.select(".domain").remove();
xAxis.selectAll(".tick line").attr("stroke", "#000").attr("stroke-width", 1.2);
xAxis.selectAll(".tick text").attr("font-size", axisFont).attr("fill", "#000")
  .attr("font-family", fontFam);

// y axis
const yAxis = svg.append("g").attr("transform", `translate(${plot.left},0)`)
  .call(d3.axisLeft(y).tickValues(yTickValues).tickSize(11)
    .tickFormat((d, i) => yTickLabels[i]));
yAxis.select(".domain").remove();
yAxis.selectAll(".tick line").attr("stroke", "#000").attr("stroke-width", 1.2);
yAxis.selectAll(".tick text").attr("font-size", axisFont).attr("fill", "#000")
  .attr("font-family", fontFam)
  .attr("transform", "rotate(-90)").attr("x", 0).attr("y", -20).attr("dy", 0)
  .attr("text-anchor", "middle");

// titles
const cx = (plot.left + plot.right) / 2, cy = (plot.top + plot.bottom) / 2;
svg.append("text").attr("x", cx).attr("y", 41).attr("text-anchor", "middle")
  .attr("font-size", 21.6).attr("font-weight", "bold").text(chartTitle);
svg.append("text").attr("x", cx).attr("y", 752).attr("text-anchor", "middle")
  .attr("font-size", axisFont).text(xTitle);
svg.append("text").attr("transform", `translate(25,${cy}) rotate(-90)`)
  .attr("text-anchor", "middle").attr("font-size", axisFont).text(yTitle);
</script>
</body></html>
